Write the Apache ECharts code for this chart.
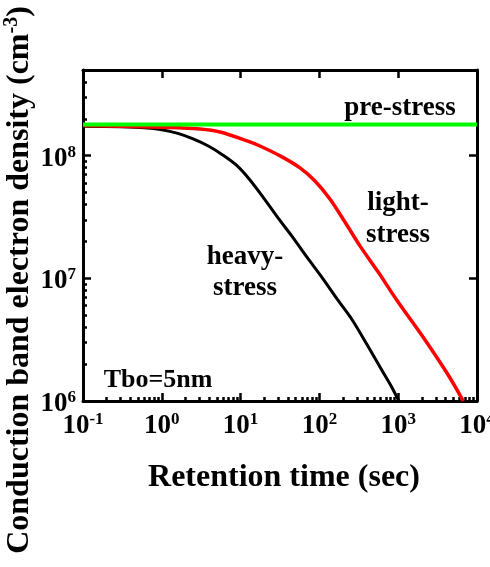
<!DOCTYPE html>
<html><head><meta charset="utf-8">
<script src="https://cdn.jsdelivr.net/npm/echarts@6/dist/echarts.min.js"></script>
<style>html,body{margin:0;padding:0;background:#fff}#c{width:490px;height:567px}</style>
</head><body><div id="c"></div>
<script>
// ---- data ----
const heavyTime = [0.1, 0.3, 0.6, 1.0, 1.6, 2.5, 4, 6, 9, 13, 20, 30, 45, 70, 110, 170, 260, 400, 600, 800, 1020];
const heavyDens = [1.74e8, 1.72e8, 1.69e8, 1.63e8, 1.52e8, 1.37e8, 1.19e8, 1.01e8, 8.3e7, 6.4e7, 4.45e7, 3.1e7, 2.2e7, 1.48e7, 1.0e7, 6.7e6, 4.6e6, 2.9e6, 1.85e6, 1.35e6, 1.0e6];
const lightTime = [0.1, 1.27, 3.06, 5.48, 12.1, 17.6, 33.5, 56.7, 87.9, 136, 211, 327, 555, 957, 2065, 4160, 6700];
const lightDens = [1.76e8, 1.7e8, 1.65e8, 1.56e8, 1.32e8, 1.20e8, 9.78e7, 7.95e7, 6.23e7, 4.44e7, 2.88e7, 1.84e7, 1.13e7, 6.67e6, 3.33e6, 1.69e6, 1.0e6];
const preTime = [0.1, 10000];
const preDens = [1.8e8, 1.8e8];
const xMajorTicks = [0.1, 1, 10, 100, 1000, 10000];
const yMajorTicks = [1e6, 1e7, 1e8];
const xMinorTicks = [];
[-1, 0, 1, 2, 3].forEach(d => { for (let k = 2; k <= 9; k++) xMinorTicks.push(+(k * Math.pow(10, d)).toPrecision(6)); });
const yMinorTicks = [];
[6, 7, 8].forEach(d => { for (let k = 2; k <= 9; k++) { const v = k * Math.pow(10, d); if (v < 5e8) yMinorTicks.push(v); } });

const FONT = '"Times New Roman","Liberation Serif",serif';
const chart = echarts.init(document.getElementById('c'), null, {renderer: 'canvas'});
function supLabel(v) { const e = Math.round(Math.log10(v)); return '{b|10}{s|' + e + '}'; }
const rich = {
  b: {fontSize: 27, fontWeight: 'bold', fontFamily: FONT, color: '#000', lineHeight: 30},
  s: {fontSize: 17, fontWeight: 'bold', fontFamily: FONT, color: '#000', lineHeight: 12, verticalAlign: 'top'}
};
const lineSt = {color: '#000', width: 3};
function axis(kind, pos, opts) {
  const base = {
    type: 'log', logBase: 10, position: pos, gridIndex: 0,
    min: kind === 'x' ? 0.1 : 1e6, max: kind === 'x' ? 10000 : 5e8,
    axisLine: {show: opts.line, onZero: false, lineStyle: lineSt},
    axisTick: {show: true, inside: true, length: opts.len, lineStyle: {color: '#000', width: 2.5}, customValues: opts.ticks},
    axisLabel: {show: !!opts.label},
    splitLine: {show: false}, minorTick: {show: false}, minorSplitLine: {show: false}
  };
  if (opts.label) {
    base.axisLabel = {show: true, customValues: opts.ticks, formatter: supLabel, rich: rich, margin: opts.margin, padding: opts.pad || 0};
  }
  return base;
}
const option = {
  animation: false,
  backgroundColor: '#fff',
  grid: {left: 83, right: 13, top: 70, bottom: 166, containLabel: false, outerBoundsMode: 'none'},
  xAxis: [
    axis('x', 'bottom', {line: true, len: 8, ticks: xMajorTicks, label: true, margin: 10}),
    axis('x', 'bottom', {line: false, len: 4, ticks: xMinorTicks}),
    axis('x', 'top', {line: true, len: 8, ticks: xMajorTicks.slice(1, 5)})
  ],
  yAxis: [
    axis('y', 'left', {line: true, len: 8, ticks: yMajorTicks, label: true, margin: 7, pad: [6, 0, 0, 0]}),
    axis('y', 'left', {line: false, len: 4, ticks: yMinorTicks}),
    axis('y', 'right', {line: true, len: 8, ticks: yMajorTicks.slice(1)})
  ],
  series: [
    {name: 'heavy-stress', type: 'line', xAxisIndex: 0, yAxisIndex: 0, showSymbol: false, smooth: 0.3,
     data: heavyTime.map((t, i) => [t, heavyDens[i]]), lineStyle: {color: '#000', width: 3}, clip: true},
    {name: 'light-stress', type: 'line', xAxisIndex: 0, yAxisIndex: 0, showSymbol: false, smooth: 0.3,
     data: lightTime.map((t, i) => [t, lightDens[i]]), lineStyle: {color: '#ff0000', width: 3.5}, clip: true},
    {name: 'pre-stress', type: 'line', xAxisIndex: 0, yAxisIndex: 0, showSymbol: false,
     data: preTime.map((t, i) => [t, preDens[i]]), lineStyle: {color: '#00ff00', width: 4}, clip: true}
  ],
  graphic: [
    {type: 'text', x: 20, y: 280, rotation: Math.PI / 2,
     style: {text: '{t|Conduction band electron density (cm}{s|-3}{t|)}', align: 'center', verticalAlign: 'middle',
       rich: {t: {fontSize: 32, fontWeight: 'bold', fontFamily: FONT, fill: '#000', lineHeight: 36},
              s: {fontSize: 20, fontWeight: 'bold', fontFamily: FONT, fill: '#000', lineHeight: 14, verticalAlign: 'top'}}}},
    {type: 'text', x: 284, y: 478,
     style: {text: 'Retention time (sec)', align: 'center', verticalAlign: 'middle', fontSize: 32, fontWeight: 'bold', fontFamily: FONT, fill: '#000'}},
    {type: 'text', x: 400, y: 108,
     style: {text: 'pre-stress', align: 'center', verticalAlign: 'middle', fontSize: 27, fontWeight: 'bold', fontFamily: FONT, fill: '#000'}},
    {type: 'text', x: 398, y: 219,
     style: {text: 'light-\nstress', align: 'center', verticalAlign: 'middle', fontSize: 27, lineHeight: 32, fontWeight: 'bold', fontFamily: FONT, fill: '#000'}},
    {type: 'text', x: 245, y: 273,
     style: {text: 'heavy-\nstress', align: 'center', verticalAlign: 'middle', fontSize: 27, lineHeight: 31, fontWeight: 'bold', fontFamily: FONT, fill: '#000'}},
    {type: 'text', x: 158, y: 380,
     style: {text: 'Tbo=5nm', align: 'center', verticalAlign: 'middle', fontSize: 26, fontWeight: 'bold', fontFamily: FONT, fill: '#000'}}
  ]
};
chart.setOption(option);
</script></body></html>
